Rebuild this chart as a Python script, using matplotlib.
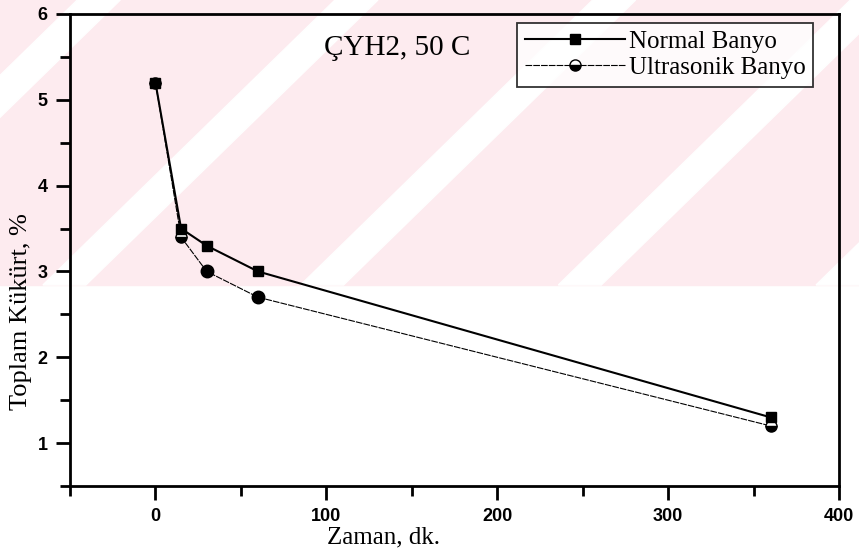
import matplotlib.pyplot as plt
from matplotlib.patches import Polygon, Rectangle
from matplotlib.ticker import MultipleLocator

# data
zaman = [0, 15, 30, 60, 360]
normal_banyo = [5.2, 3.5, 3.3, 3.0, 1.3]
ultrasonik_banyo = [5.2, 3.4, 3.0, 2.7, 1.2]

x_ticks = [0, 100, 200, 300, 400]
y_ticks = [1, 2, 3, 4, 5, 6]

serif = "Liberation Serif"
sans = "Liberation Sans"

fig = plt.figure(figsize=(8.59, 5.48), dpi=100)

# pale watermark in the upper part of the page
pink = "#fdebef"
fig.patches.append(Rectangle((0, 0.48), 1, 0.52, transform=fig.transFigure,
                             color=pink, zorder=-10))
for x0 in [-0.25, 0.05, 0.35, 0.65, 0.95]:
    fig.patches.append(Polygon([(x0, 0.48), (x0 + 0.05, 0.48),
                                (x0 + 0.39, 1.0), (x0 + 0.34, 1.0)],
                               closed=True, transform=fig.transFigure,
                               color="white", zorder=-9))

ax = fig.add_axes([0.0815, 0.1131, 0.8952, 0.8614])
ax.patch.set_alpha(0)

ax.plot(zaman, normal_banyo, color="black", lw=1.5, marker="s", ms=7,
        label="Normal Banyo", zorder=3)
ax.plot(zaman, ultrasonik_banyo, color="black", lw=0.8, ls=(0, (6, 1)),
        marker="o", ms=8, mfc="black", fillstyle="bottom", mfcalt="white",
        label="Ultrasonik Banyo", zorder=2)
ax.plot(zaman, ultrasonik_banyo, ls="none", marker="o", ms=9, color="black",
        markevery=[2, 3], zorder=2)

ax.set_xlim(-50, 400)
ax.set_ylim(0.5, 6)
ax.set_xticks(x_ticks)
ax.set_yticks(y_ticks)
ax.xaxis.set_minor_locator(MultipleLocator(50))
ax.yaxis.set_minor_locator(MultipleLocator(0.5))
ax.tick_params(which="both", direction="out", width=2, top=False, right=False)
ax.tick_params(which="major", length=10, pad=6)
ax.tick_params(which="minor", length=7)
for lab in ax.get_xticklabels() + ax.get_yticklabels():
    lab.set_fontfamily(sans)
    lab.set_fontweight("bold")
    lab.set_fontsize(13)
for sp in ax.spines.values():
    sp.set_linewidth(2)

ax.set_xlabel("Zaman, dk.", family=serif, fontsize=18)
ax.xaxis.set_label_coords(0.408, -0.085)
ax.set_ylabel("Toplam Kükürt, %", family=serif, fontsize=19)
ax.yaxis.set_label_coords(-0.05, 0.37)

ax.text(0.425, 0.928, "ÇYH2, 50 C", transform=ax.transAxes, family=serif,
        fontsize=21, ha="center", va="center")

leg = ax.legend(loc="upper right", bbox_to_anchor=(0.966, 0.981),
                borderaxespad=0, prop={"family": serif, "size": 18},
                frameon=True, fancybox=False, edgecolor="black",
                handlelength=4.0, handletextpad=0.15, borderpad=0.3,
                labelspacing=0.15)
leg.get_frame().set_linewidth(1.3)

fig.savefig("out.png", dpi=100)
